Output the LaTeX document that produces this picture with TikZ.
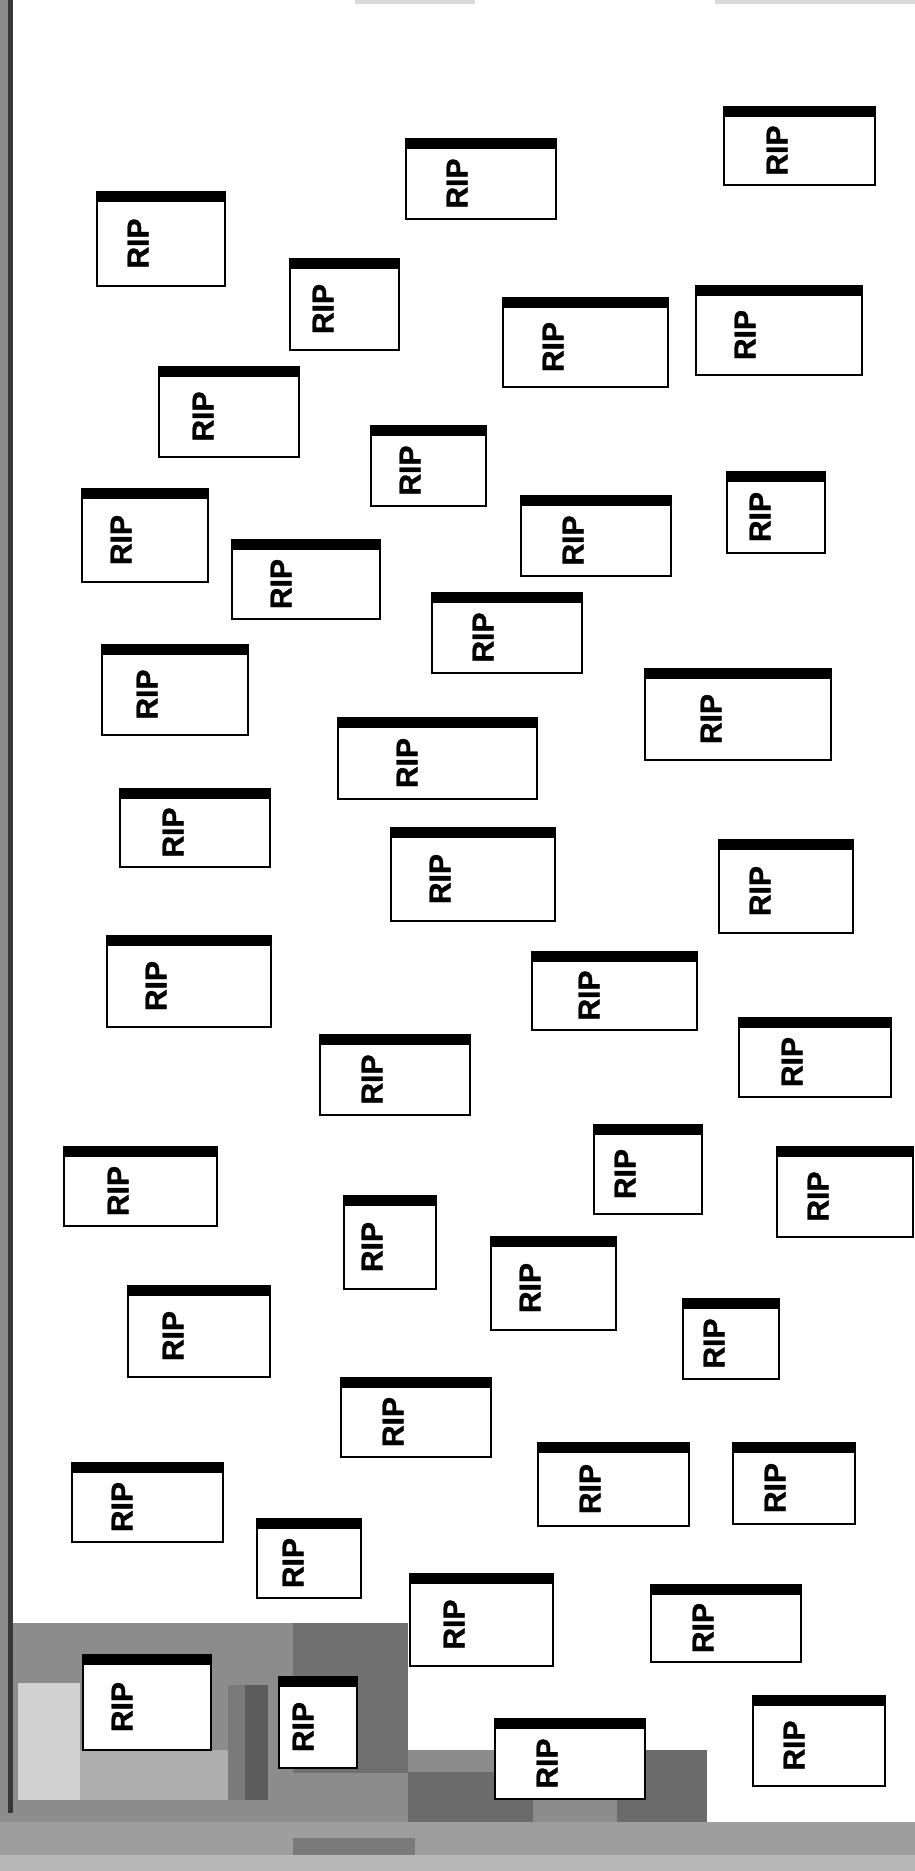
\documentclass[tikz,border=0pt]{standalone}
\usepackage{fontspec}
\setmainfont{Liberation Sans}
\newfontfamily\ripfont[FakeBold=1.2]{Liberation Sans Bold}
\begin{document}
\begin{tikzpicture}[x=1pt,y=-1pt,
  boxframe/.style={draw=black,line width=2.6pt,fill=white},
  riplabel/.style={rotate=90,inner sep=0pt,font=\fontsize{30}{30}\selectfont\ripfont}]
\newcommand\ripbox[6]{%
  \draw[boxframe] (#2,#3) rectangle (#4,#5);
  \fill[black] (#2-1.3,#3-1.3) rectangle (#4+1.3,#3+9.5);
  \node[riplabel] (#1) at (#2+#6,{(#3+9+#5)/2}) {RIP};
}
\useasboundingbox (0,0) rectangle (915,1871);
\fill[white] (0,0) rectangle (915,1871);
% faint scan marks at the top
\fill[black!15] (355,0) rectangle (475,4);
\fill[black!15] (715,0) rectangle (915,4);
% left border
\fill[black!45] (0,0) rectangle (8,1871);
\fill[black!78] (8,0) rectangle (13,1813);
\fill[black!45] (8,1813) rectangle (13,1871);
% bottom grey areas
\fill[black!45] (13,1623) rectangle (408,1871);
\fill[black!56] (293,1623) rectangle (408,1773);
\fill[black!18] (18,1683) rectangle (80,1800);
\fill[black!32] (80,1750) rectangle (228,1800);
\fill[black!52] (228,1685) rectangle (245,1800);
\fill[black!64] (245,1685) rectangle (268,1800);
\fill[black!45] (408,1750) rectangle (707,1832);
\fill[black!58] (617,1750) rectangle (707,1832);
\fill[black!58] (408,1772) rectangle (533,1837);
\fill[black!38] (0,1822) rectangle (915,1871);
\fill[black!52] (293,1838) rectangle (415,1857);
\fill[black!28] (0,1855) rectangle (915,1871);
% boxes
\ripbox{b1}{97}{192}{225}{286}{41}
\ripbox{b2}{406}{139}{556}{219}{51}
\ripbox{b3}{724}{107}{875}{185}{53}
\ripbox{b4}{290}{259}{399}{350}{33}
\ripbox{b5}{503}{298}{668}{387}{50}
\ripbox{b6}{696}{286}{862}{375}{49}
\ripbox{b7}{159}{367}{299}{457}{44}
\ripbox{b8}{371}{426}{486}{506}{39}
\ripbox{b9}{82}{489}{208}{582}{39}
\ripbox{b10}{232}{540}{380}{619}{49}
\ripbox{b11}{521}{496}{671}{576}{52}
\ripbox{b12}{727}{472}{825}{553}{33}
\ripbox{b13}{432}{593}{582}{673}{51}
\ripbox{b14}{102}{645}{248}{735}{45}
\ripbox{b15}{645}{669}{831}{760}{66}
\ripbox{b16}{338}{718}{537}{799}{69}
\ripbox{b17}{120}{789}{270}{867}{53}
\ripbox{b18}{391}{828}{555}{921}{49}
\ripbox{b19}{719}{840}{853}{933}{41}
\ripbox{b20}{107}{936}{271}{1027}{49}
\ripbox{b21}{532}{952}{697}{1030}{57}
\ripbox{b22}{739}{1018}{891}{1097}{53}
\ripbox{b23}{320}{1035}{470}{1115}{52}
\ripbox{b24}{64}{1147}{217}{1226}{54}
\ripbox{b25}{594}{1125}{702}{1214}{31}
\ripbox{b26}{777}{1147}{913}{1237}{41}
\ripbox{b27}{344}{1196}{436}{1289}{28}
\ripbox{b28}{491}{1237}{616}{1330}{39}
\ripbox{b29}{128}{1286}{270}{1377}{45}
\ripbox{b30}{683}{1299}{779}{1379}{31}
\ripbox{b31}{341}{1378}{491}{1457}{52}
\ripbox{b32}{72}{1463}{223}{1542}{50}
\ripbox{b33}{538}{1443}{689}{1526}{52}
\ripbox{b34}{733}{1443}{855}{1524}{42}
\ripbox{b35}{257}{1519}{361}{1598}{36}
\ripbox{b36}{410}{1574}{553}{1666}{44}
\ripbox{b37}{651}{1585}{801}{1662}{52}
\ripbox{b38}{83}{1655}{211}{1750}{39}
\ripbox{b39}{279}{1677}{357}{1768}{24}
\ripbox{b40}{495}{1719}{645}{1799}{52}
\ripbox{b41}{753}{1696}{885}{1786}{41}
\end{tikzpicture}
\end{document}
